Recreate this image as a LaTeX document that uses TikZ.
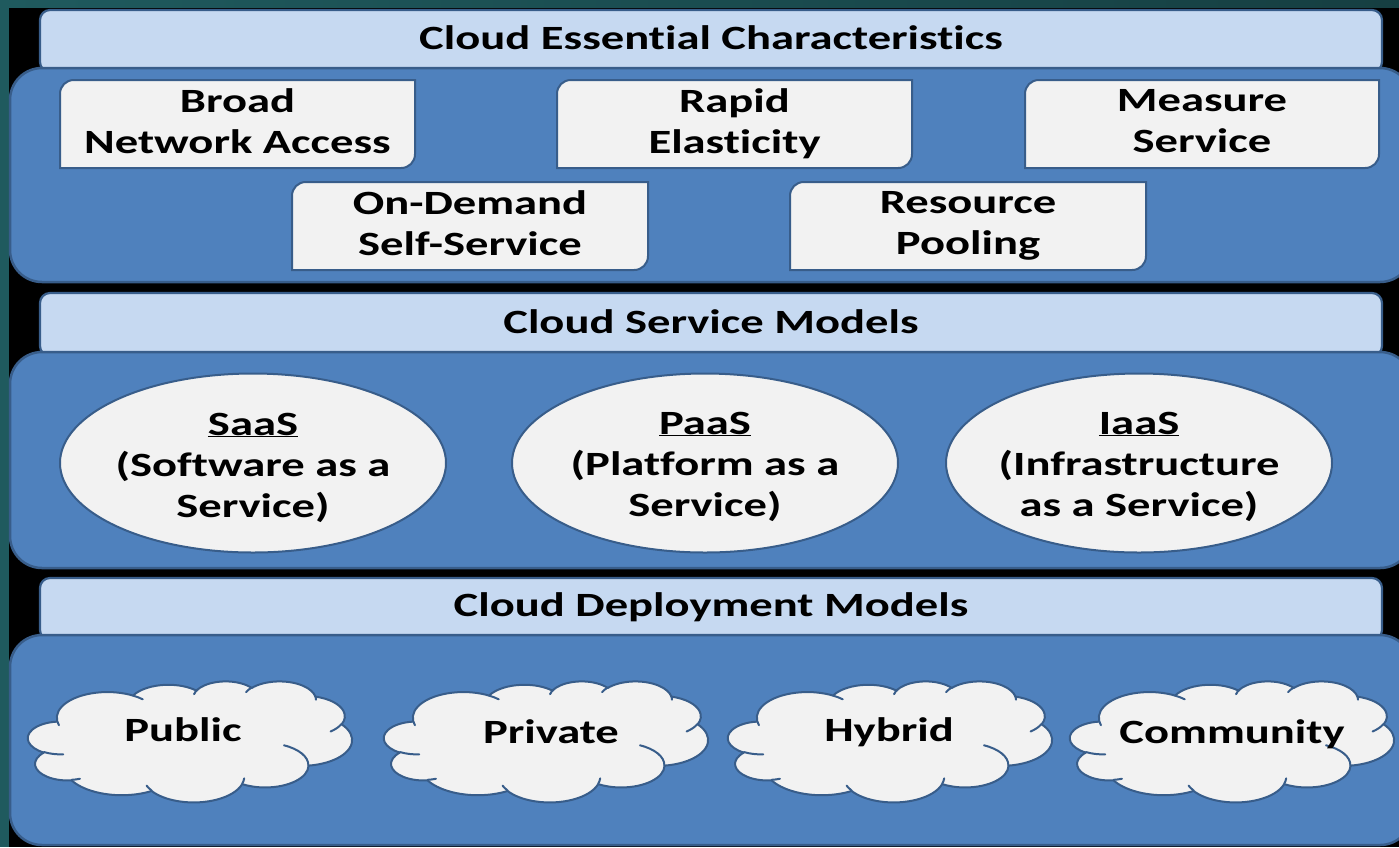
\documentclass[tikz,border=0pt]{standalone}
\usepackage{fontspec}
\setmainfont{Carlito}[FakeStretch=1.37, Ligatures=NoCommon]
\usetikzlibrary{shapes.geometric}
\definecolor{panelblue}{HTML}{4F81BD}
\definecolor{edgeblue}{HTML}{385D8A}
\definecolor{bandblue}{HTML}{C6D9F1}
\definecolor{boxgray}{HTML}{F2F2F2}
\definecolor{tealbg}{HTML}{1F5A5E}
\tikzset{
  txt/.style={inner sep=0pt, align=center, text=black, font=\fontsize{34}{41}\selectfont\bfseries,
    execute at begin node=\strut, execute at end node=\strut},
  boxstyle/.style={fill=boxgray, draw=edgeblue, line width=2pt},
  bandstyle/.style={fill=bandblue, draw=edgeblue, line width=2.2pt, rounded corners=10pt},
  panelstyle/.style={fill=panelblue, draw=edgeblue, line width=2.5pt, rounded corners=32pt},
  ellstyle/.style={ellipse, fill=boxgray, draw=edgeblue, line width=2pt, minimum width=386pt, minimum height=179pt, inner sep=0pt},
  cloudfill/.style={fill=boxgray, draw=edgeblue, line width=2pt, line join=round},
  cloudline/.style={draw=edgeblue, line width=2pt, line cap=round}
}
% convert an OOXML arcTo (visual angles) into parametric start / delta angles
\newcommand\ooconv[5]{%
  \pgfmathsetmacro\cldtmpA{atan2((#2)*sin(#4),(#3)*cos(#4))}%
  \pgfmathsetmacro\cldtmpB{atan2((#2)*sin((#4)+(#5)),(#3)*cos((#4)+(#5)))}%
  \pgfmathsetmacro\cldtmpD{\cldtmpB-\cldtmpA}%
  \pgfmathsetmacro\cldtmpD{(#5)>0 ? (\cldtmpD<0 ? \cldtmpD+360 : \cldtmpD) : (\cldtmpD>0 ? \cldtmpD-360 : \cldtmpD)}%
  \global\expandafter\let\csname cld#1s\endcsname\cldtmpA
  \global\expandafter\let\csname cld#1d\endcsname\cldtmpD
}
\newcommand\diagbox[6]{%
  \draw[boxstyle] (#2,#3+14) .. controls (#2,#3+6) and (#2+6,#3) .. (#2+14,#3) -- (#4,#3) -- (#4,#5-14) .. controls (#4,#5-6) and (#4-6,#5) .. (#4-14,#5) -- (#2,#5) -- cycle;
  \node[txt] (#1) at ({(#2+#4)/2},{(#3+#5)/2+3.5}) {#6};
}
\newcommand\cloudat[2]{%
  \begin{scope}[shift={(#1,#2)}, xscale=324/432, yscale=121/432]
  \filldraw[cloudfill] (39.00,143.70)
    arc[start angle=\cldas, delta angle=\cldad, x radius=67.53, y radius=91.90]
    arc[start angle=\cldbs, delta angle=\cldbd, x radius=53.33, y radius=72.67]
    arc[start angle=\cldcs, delta angle=\cldcd, x radius=43.65, y radius=59.45]
    arc[start angle=\cldds, delta angle=\clddd, x radius=48.57, y radius=65.95]
    arc[start angle=\cldes, delta angle=\clded, x radius=53.33, y radius=72.73]
    arc[start angle=\cldfs, delta angle=\cldfd, x radius=67.75, y radius=92.20]
    arc[start angle=\cldgs, delta angle=\cldgd, x radius=57.85, y radius=78.67]
    arc[start angle=\cldhs, delta angle=\cldhd, x radius=67.52, y radius=92.15]
    arc[start angle=\cldis, delta angle=\cldid, x radius=77.20, y radius=105.43]
    arc[start angle=\cldjs, delta angle=\cldjd, x radius=43.60, y radius=59.18]
    arc[start angle=\cldks, delta angle=\cldkd, x radius=43.45, y radius=59.45]
    -- cycle;
  \draw[cloudline] (46.93,261.77) arc[start angle=\cldms, delta angle=\cldmd, x radius=43.45, y radius=59.45];
  \draw[cloudline] (69.28,348.99) arc[start angle=\cldns, delta angle=\cldnd, x radius=43.60, y radius=59.18];
  \draw[cloudline] (164.78,390.90) arc[start angle=\cldos, delta angle=\cldod, x radius=67.52, y radius=92.15];
  \draw[cloudline] (288.27,347.51) arc[start angle=\cldps, delta angle=\cldpd, x radius=67.52, y radius=92.15];
  \draw[cloudline] (341.29,229.54) arc[start angle=\cldqs, delta angle=\cldqd, x radius=57.85, y radius=78.67];
  \draw[cloudline] (417.98,153.54) arc[start angle=\cldrs, delta angle=\cldrd, x radius=53.33, y radius=72.73];
  \draw[cloudline] (383.24,54.26) arc[start angle=\cldss, delta angle=\cldsd, x radius=48.57, y radius=65.95];
  \draw[cloudline] (290.78,39.52) arc[start angle=\cldts, delta angle=\cldtd, x radius=48.57, y radius=65.95];
  \draw[cloudline] (221.41,47.20) arc[start angle=\cldus, delta angle=\cldud, x radius=43.65, y radius=59.45];
  \draw[cloudline] (140.00,51.92) arc[start angle=\cldvs, delta angle=\cldvd, x radius=67.53, y radius=91.90];
  \draw[cloudline] (41.27,157.89) arc[start angle=\cldws, delta angle=\cldwd, x radius=67.53, y radius=91.90];
  \end{scope}
}
\begin{document}
\ooconv{a}{67.53}{91.90}{-190.48748}{123.78053}%
\ooconv{b}{53.33}{72.67}{-144.10238}{89.94523}%
\ooconv{c}{43.65}{59.45}{-145.80792}{99.72302}%
\ooconv{d}{48.57}{65.95}{-130.98607}{117.24173}%
\ooconv{e}{53.33}{72.73}{-78.70888}{109.02692}%
\ooconv{f}{67.75}{92.20}{-46.26725}{130.269}%
\ooconv{g}{57.85}{78.67}{0.62502}{114.03333}%
\ooconv{h}{67.52}{92.15}{22.4516}{115.17255}%
\ooconv{i}{77.20}{105.43}{66.24263}{75.71102}%
\ooconv{j}{43.60}{59.18}{-274.94208}{146.73557}%
\ooconv{k}{43.45}{59.45}{-246.8285}{152.51885}%
\ooconv{m}{43.45}{59.45}{86.742}{26.4295}%
\ooconv{n}{43.60}{59.18}{73.61047}{11.44747}%
\ooconv{o}{67.52}{92.15}{137.62415}{14.0811}%
\ooconv{p}{67.52}{92.15}{6.45327}{15.99835}%
\ooconv{q}{57.85}{78.67}{-70.29235}{70.91737}%
\ooconv{r}{53.33}{72.73}{30.31803}{27.7515}%
\ooconv{s}{48.57}{65.95}{-13.74433}{14.8589}%
\ooconv{t}{48.57}{65.95}{-149.18145}{18.19537}%
\ooconv{u}{43.65}{59.45}{-163.49427}{20.7425}%
\ooconv{v}{67.53}{91.90}{-66.70695}{12.31935}%
\ooconv{w}{67.53}{91.90}{157.65435}{11.85817}%
\begin{tikzpicture}[x=1pt,y=-1pt]
\useasboundingbox (0,0) rectangle (1399,847);
% background
\fill[black] (0,0) rectangle (1399,847);
\shade[left color=tealbg, right color=tealbg!70!black] (0,0) rectangle (1399,7);
\fill[tealbg] (0,0) rectangle (9,847);
% ---- layer 1
\draw[bandstyle] (40,10) rectangle (1382,72);
\node[txt] (h1) at (711,41.5) {Cloud Essential Characteristics};
\draw[panelstyle] (10,68) rectangle (1412,282);
\diagbox{bna}{60}{80}{415}{168}{Broad\\Network Access}
\diagbox{re}{557}{80}{912}{168}{Rapid\\Elasticity}
\diagbox{ms}{1025}{80}{1379}{168}{Measure\\Service}
\diagbox{ods}{292}{182}{648}{270}{On-Demand\\Self-Service}
\diagbox{rp}{790}{182}{1146}{270}{Resource\\Pooling}
% ---- layer 2
\draw[bandstyle] (40,293) rectangle (1382,356);
\node[txt] (h2) at (711,325) {Cloud Service Models};
\draw[panelstyle] (10,352) rectangle (1412,568);
\node[ellstyle] (saas) at (253,463) {};
\node[ellstyle] (paas) at (705,463) {};
\node[ellstyle] (iaas) at (1139,463) {};
\node[txt] (saasT) at (253,471) {\underline{SaaS}\\(Software as a\\Service)};
\node[txt] (paasT) at (705,470) {\underline{PaaS}\\(Platform as a\\Service)};
\node[txt] (iaasT) at (1139,470) {\underline{IaaS}\\(Infrastructure\\as a Service)};
% ---- layer 3
\draw[bandstyle] (40,578) rectangle (1382,640);
\node[txt] (h3) at (711,608) {Cloud Deployment Models};
\draw[panelstyle] (10,635) rectangle (1412,845);
\cloudat{28}{681}
\cloudat{384}{681}
\cloudat{728}{681}
\cloudat{1070}{681}
\node[txt] (pubT) at (183,733) {Public};
\node[txt] (priT) at (551,735) {Private};
\node[txt] (hybT) at (889,733) {Hybrid};
\node[txt] (comT) at (1232,735) {Community};
\end{tikzpicture}
\end{document}
